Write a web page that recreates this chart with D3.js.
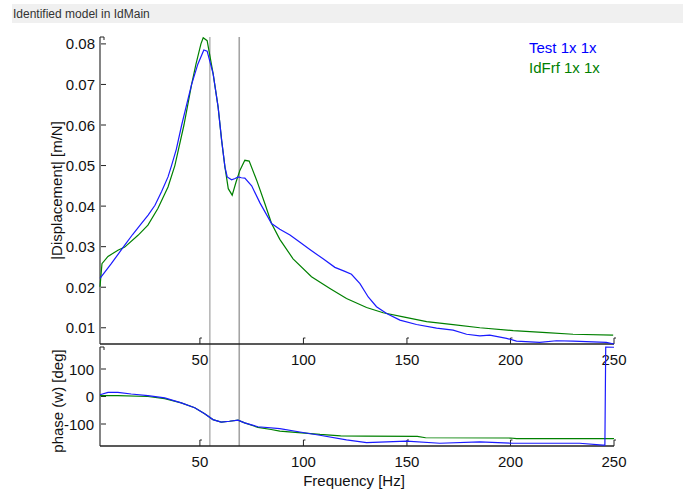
<!DOCTYPE html>
<html>
<head>
<meta charset="utf-8">
<script src="https://cdn.jsdelivr.net/npm/d3@7"></script>
<style>
  html, body { margin: 0; padding: 0; background: #fff; }
  svg { display: block; font-family: "Liberation Sans", Arial, sans-serif; }
</style>
</head>
<body>
<svg id="chart" width="683" height="492"></svg>
<script>
// Measured FRF ("Test") and identified model ("IdFrf"): [frequency Hz, value]
const testMag = [
  [1.75, .0222], [7.2, .0258], [13.7, .0304], [17.5, .0330], [21.7, .0357],
  [25, .0378], [28.3, .0402], [31.5, .0436], [34.6, .0472], [36.3, .0500],
  [38.6, .0540], [41.2, .0600], [43.6, .0650],
  [46, .0700], [49, .0750], [51.9, .0785], [53.5, .0782], [56.4, .0726],
  [58.8, .0644], [60.5, .0562], [62.1, .0496], [63.2, .0472], [65.3, .0465],
  [67, .0468], [68.5, .0472], [70, .0470], [71.7, .0469], [75, .0450],
  [79, .0408], [84.6, .0357], [88.6, .0343], [93.5, .0329], [98, .0312],
  [103.1, .0293], [109.5, .0270], [115.2, .0249], [120, .0239], [123.2, .0232],
  [127.3, .0209], [131.3, .0176], [135.3, .0152], [140.2, .0135], [146.6, .0119],
  [154.6, .0108], [164.3, .0099], [172.3, .0094], [178.8, .0084], [185.2, .0080],
  [190, .0082], [198.1, .0074], [202.9, .0067], [214.1, .0064], [222.2, .0068],
  [230.2, .0067], [246.3, .0064], [250, .0060]
];
const fitMag = [
  [1.75, .0201], [2.7, .0258], [5.6, .0276], [10.4, .0291], [13.7, .0299],
  [20.1, .0328], [24.9, .0353], [29.7, .0394], [34.6, .0447], [37.9, .0500],
  [42.3, .0600], [46, .0700], [48.1, .0750], [50.5, .0800], [51.6, .0815],
  [53.5, .0808], [56.4, .0726], [58.8, .0644], [60.5, .0562], [62.1, .0496],
  [63.7, .0443], [65.6, .0427], [67.5, .0460], [69.3, .0488], [71.7, .0513],
  [73.8, .0511], [77.4, .0464], [81.4, .0406], [84.6, .0357], [88.6, .0318],
  [95, .0270], [103.9, .0226], [112.8, .0197], [120.8, .0172], [130.5, .0150],
  [138.5, .0137], [148.2, .0127], [159.5, .0115], [172.3, .0108], [185.2, .0100],
  [201.3, .0093], [217.4, .0088], [230.2, .0084], [249.6, .0082]
];
const testPhase = [
  [1.75, 6.5], [5.6, 15], [10.4, 15], [16.8, 9], [24.9, 3], [33, -5],
  [41, -23], [47.5, -41], [52.3, -63], [56.3, -84], [60.3, -93], [64.3, -90],
  [68.4, -86], [71.6, -96], [78, -110], [88.6, -117], [98.3, -129], [107.9, -141],
  [120.8, -158], [130.5, -168], [149.8, -162], [165.9, -170], [185.2, -165],
  [201.3, -170], [233.4, -170], [244.7, -177], [245.6, -177], [246, 180], [250, 179]
];
const fitPhase = [
  [1.75, 3], [10.4, 3], [24.9, 0], [33, -8], [41, -23], [47.5, -41],
  [52.3, -63], [56.3, -84], [60.3, -93], [64.3, -90], [68.4, -86], [71.6, -96],
  [78, -112], [84.4, -120], [88.6, -126], [100.6, -133], [108, -138], [118, -143],
  [130, -144], [155, -145], [159, -150], [200, -151], [203, -153], [250, -153]
];
// Marked resonance frequencies
const markers = [54.8, 69.0];
const freqTicks = [50, 100, 150, 200, 250];
const magTicks = [0.01, 0.02, 0.03, 0.04, 0.05, 0.06, 0.07, 0.08];
const phaseTicks = [-100, 0, 100];
const legendItems = [
  { label: "Test 1x 1x", color: "#0000ff" },
  { label: "IdFrf 1x 1x", color: "#008000" }
];

const svg = d3.select("#chart");
const FONT = 15;

// Window title strip
svg.append("rect").attr("x", 12).attr("y", 4).attr("width", 671).attr("height", 19)
  .attr("fill", "#f0f0f0");
svg.append("text").attr("x", 13).attr("y", 18).attr("font-size", 12).attr("fill", "#333")
  .text("Identified model in IdMain");

const L = 100, R = 614;
const magTop = 37, magBot = 344, phTop = 347, phBot = 446;

const x = d3.scaleLinear().domain([1.75, 250]).range([L, R]);
const yMag = d3.scaleLinear().domain([0.006, 0.0817]).range([magBot, magTop]);
const yPh = d3.scaleLinear().domain([-180, 180]).range([phBot, phTop]);

// Resonance marker lines across both panels
svg.append("g").selectAll("line").data(markers).join("line")
  .attr("x1", d => x(d)).attr("x2", d => x(d))
  .attr("y1", magTop).attr("y2", phBot)
  .attr("stroke", (d, i) => i === 0 ? "#b8b8b8" : "#a4a4a4")
  .attr("stroke-width", 1.6);

function drawPanel(yScale, top, bot, yTicks, fmt, labelRight) {
  const g = svg.append("g");
  // left and bottom axis lines
  g.append("line").attr("x1", L).attr("x2", L).attr("y1", top).attr("y2", bot)
    .attr("stroke", "#666").attr("stroke-width", 1.6);
  g.append("line").attr("x1", L).attr("x2", R).attr("y1", bot).attr("y2", bot)
    .attr("stroke", "#222").attr("stroke-width", 1.4);
  // y ticks (inward)
  g.selectAll(".yt").data(yTicks).join("line")
    .attr("x1", L + 1).attr("x2", L + 6)
    .attr("y1", d => yScale(d)).attr("y2", d => yScale(d))
    .attr("stroke", "#222").attr("stroke-width", 1);
  g.selectAll(".yl").data(yTicks).join("text")
    .attr("x", labelRight).attr("y", d => yScale(d))
    .attr("text-anchor", "end").attr("dominant-baseline", "central")
    .attr("font-size", FONT).attr("fill", "#111")
    .text(fmt);
  // x ticks (inward, with small nub)
  g.selectAll(".xt").data(freqTicks).join("path")
    .attr("d", d => `M${x(d)},${bot}V${bot - 6}h2`)
    .attr("fill", "none").attr("stroke", "#222").attr("stroke-width", 1);
  g.selectAll(".xl").data(freqTicks).join("text")
    .attr("x", d => x(d)).attr("y", bot + 15.5)
    .attr("text-anchor", "middle").attr("dominant-baseline", "central")
    .attr("font-size", FONT).attr("fill", "#111")
    .text(d => d);
  // small top nub on the y axis
  g.append("path").attr("d", `M${L},${top}h4v3`).attr("fill", "none")
    .attr("stroke", "#222").attr("stroke-width", 1);
}

drawPanel(yMag, magTop, magBot, magTicks, d3.format(".2f"), 95);
drawPanel(yPh, phTop, phBot, phaseTicks, d => d, 94);

const lineMag = d3.line().x(d => x(d[0])).y(d => yMag(d[1]));
const linePh = d3.line().x(d => x(d[0])).y(d => yPh(d[1]));

svg.append("path").datum(fitMag).attr("d", lineMag)
  .attr("fill", "none").attr("stroke", "#008000").attr("stroke-width", 1.2);
svg.append("path").datum(testMag).attr("d", lineMag)
  .attr("fill", "none").attr("stroke", "#1a1aff").attr("stroke-width", 1.2);
svg.append("path").datum(fitPhase).attr("d", linePh)
  .attr("fill", "none").attr("stroke", "#008000").attr("stroke-width", 1.2);
svg.append("path").datum(testPhase).attr("d", linePh)
  .attr("fill", "none").attr("stroke", "#1a1aff").attr("stroke-width", 1.2);

// Legend
svg.append("g").selectAll("text").data(legendItems).join("text")
  .attr("x", 529).attr("y", (d, i) => 53 + i * 20)
  .attr("font-size", FONT).attr("fill", d => d.color)
  .text(d => d.label);

// Axis labels
svg.append("text").attr("transform", `translate(62,${(magTop + magBot) / 2}) rotate(-90)`)
  .attr("text-anchor", "middle").attr("font-size", FONT).attr("fill", "#111")
  .text("|Displacement| [m/N]");
svg.append("text").attr("transform", `translate(63,401) rotate(-90)`)
  .attr("text-anchor", "middle").attr("font-size", FONT).attr("fill", "#111")
  .text("phase (w) [deg]");
svg.append("text").attr("x", 354).attr("y", 486)
  .attr("text-anchor", "middle").attr("font-size", FONT).attr("fill", "#111")
  .text("Frequency [Hz]");
</script>
</body>
</html>
